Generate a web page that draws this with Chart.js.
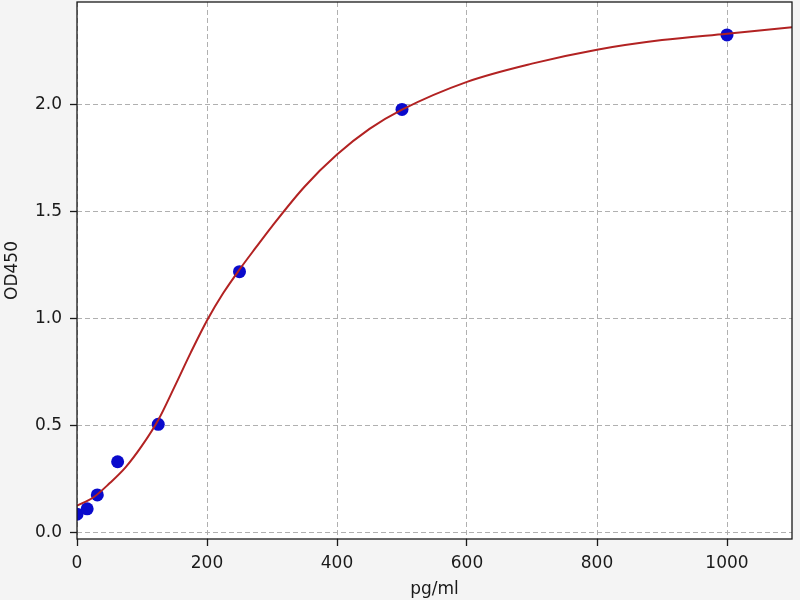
<!DOCTYPE html>
<html>
<head>
<meta charset="utf-8">
<script src="https://cdn.jsdelivr.net/npm/chart.js@4"></script>
<style>
html,body{margin:0;padding:0;background:#f4f4f4;}
#wrap{width:800px;height:600px;}
canvas{display:block;}
</style>
</head>
<body>
<div id="wrap"><canvas id="c" width="800" height="600"></canvas></div>
<script>
// Standard points (pg/ml vs OD450)
const concentrations = [0, 15.625, 31.25, 62.5, 125, 250, 500, 1000];
const odValues = [0.085, 0.11, 0.175, 0.33, 0.505, 1.218, 1.976, 2.324];

// Fitted curve
const curveX = [0, 25, 50, 75, 100, 125, 150, 175, 200, 225, 250, 275, 300, 350, 400, 450, 500, 600, 700, 800, 900, 1000, 1100];
const curveY = [0.125, 0.163, 0.229, 0.305, 0.405, 0.525, 0.68, 0.84, 0.99, 1.118, 1.228, 1.33, 1.43, 1.615, 1.765, 1.885, 1.975, 2.105, 2.19, 2.255, 2.3, 2.33, 2.36];

// Tick labels
const xTicks = [0, 200, 400, 600, 800, 1000];
const yTicks = [0.0, 0.5, 1.0, 1.5, 2.0];

const xLabel = 'pg/ml';
const yLabel = 'OD450';

const FONT = {family: 'DejaVu Sans', size: 17};
const TEXT = '#1a1a1a';

const framePlugin = {
  id: 'frame',
  beforeDraw(chart) {
    const {ctx, chartArea: a} = chart;
    ctx.save();
    ctx.fillStyle = '#f4f4f4';
    ctx.fillRect(0, 0, chart.width, chart.height);
    ctx.fillStyle = '#ffffff';
    ctx.fillRect(a.left, a.top, a.right - a.left, a.bottom - a.top);
    ctx.restore();
  },
  afterDraw(chart) {
    const {ctx, chartArea: a} = chart;
    ctx.save();
    ctx.strokeStyle = '#1a1a1a';
    ctx.lineWidth = 1.3;
    ctx.strokeRect(a.left, a.top, a.right - a.left, a.bottom - a.top);
    ctx.restore();
  }
};

new Chart(document.getElementById('c'), {
  type: 'scatter',
  data: {
    datasets: [
      {
        label: 'fit',
        data: curveX.map((x, i) => ({x: x, y: curveY[i]})),
        showLine: true,
        borderColor: '#b22222',
        borderWidth: 2,
        pointRadius: 0,
        cubicInterpolationMode: 'monotone',
        clip: 0
      },
      {
        label: 'standards',
        data: concentrations.map((x, i) => ({x: x, y: odValues[i]})),
        pointRadius: 6.5,
        pointBackgroundColor: '#0a0acc',
        pointBorderColor: '#0a0acc',
        pointBorderWidth: 0,
        showLine: false,
        clip: 0
      }
    ]
  },
  options: {
    responsive: false,
    animation: false,
    devicePixelRatio: 1,
    layout: {autoPadding: false, padding: {top: 2, right: 8, left: 0, bottom: 0}},
    plugins: {legend: {display: false}, tooltip: {enabled: false}},
    scales: {
      x: {
        type: 'linear',
        min: 0,
        max: 1100,
        afterBuildTicks: s => { s.ticks = xTicks.map(v => ({value: v})); },
        afterFit: s => { s.height = 61; s.paddingLeft = 0; s.paddingRight = 0; },
        grid: {color: '#b0b0b0', lineWidth: 1, tickLength: 7, tickColor: '#1a1a1a', tickWidth: 1.3, tickBorderDash: []},
        border: {display: false, dash: [5, 3]},
        ticks: {font: FONT, color: TEXT, padding: 7, maxRotation: 0, callback: v => String(v)},
        title: {display: true, text: xLabel, font: FONT, color: TEXT, padding: {top: 0, bottom: 0}}
      },
      y: {
        type: 'linear',
        min: -0.031,
        max: 2.478,
        afterBuildTicks: s => { s.ticks = yTicks.map(v => ({value: v})); },
        afterFit: s => { s.width = 77; s.paddingTop = 0; s.paddingBottom = 0; },
        grid: {color: '#b0b0b0', lineWidth: 1, tickLength: 7, tickColor: '#1a1a1a', tickWidth: 1.3, tickBorderDash: []},
        border: {display: false, dash: [5, 3]},
        ticks: {font: FONT, color: TEXT, padding: 8, callback: v => Number(v).toFixed(1)},
        title: {display: true, text: yLabel, font: FONT, color: TEXT, padding: {top: 2, bottom: 0}}
      }
    }
  },
  plugins: [framePlugin]
});
</script>
</body>
</html>
